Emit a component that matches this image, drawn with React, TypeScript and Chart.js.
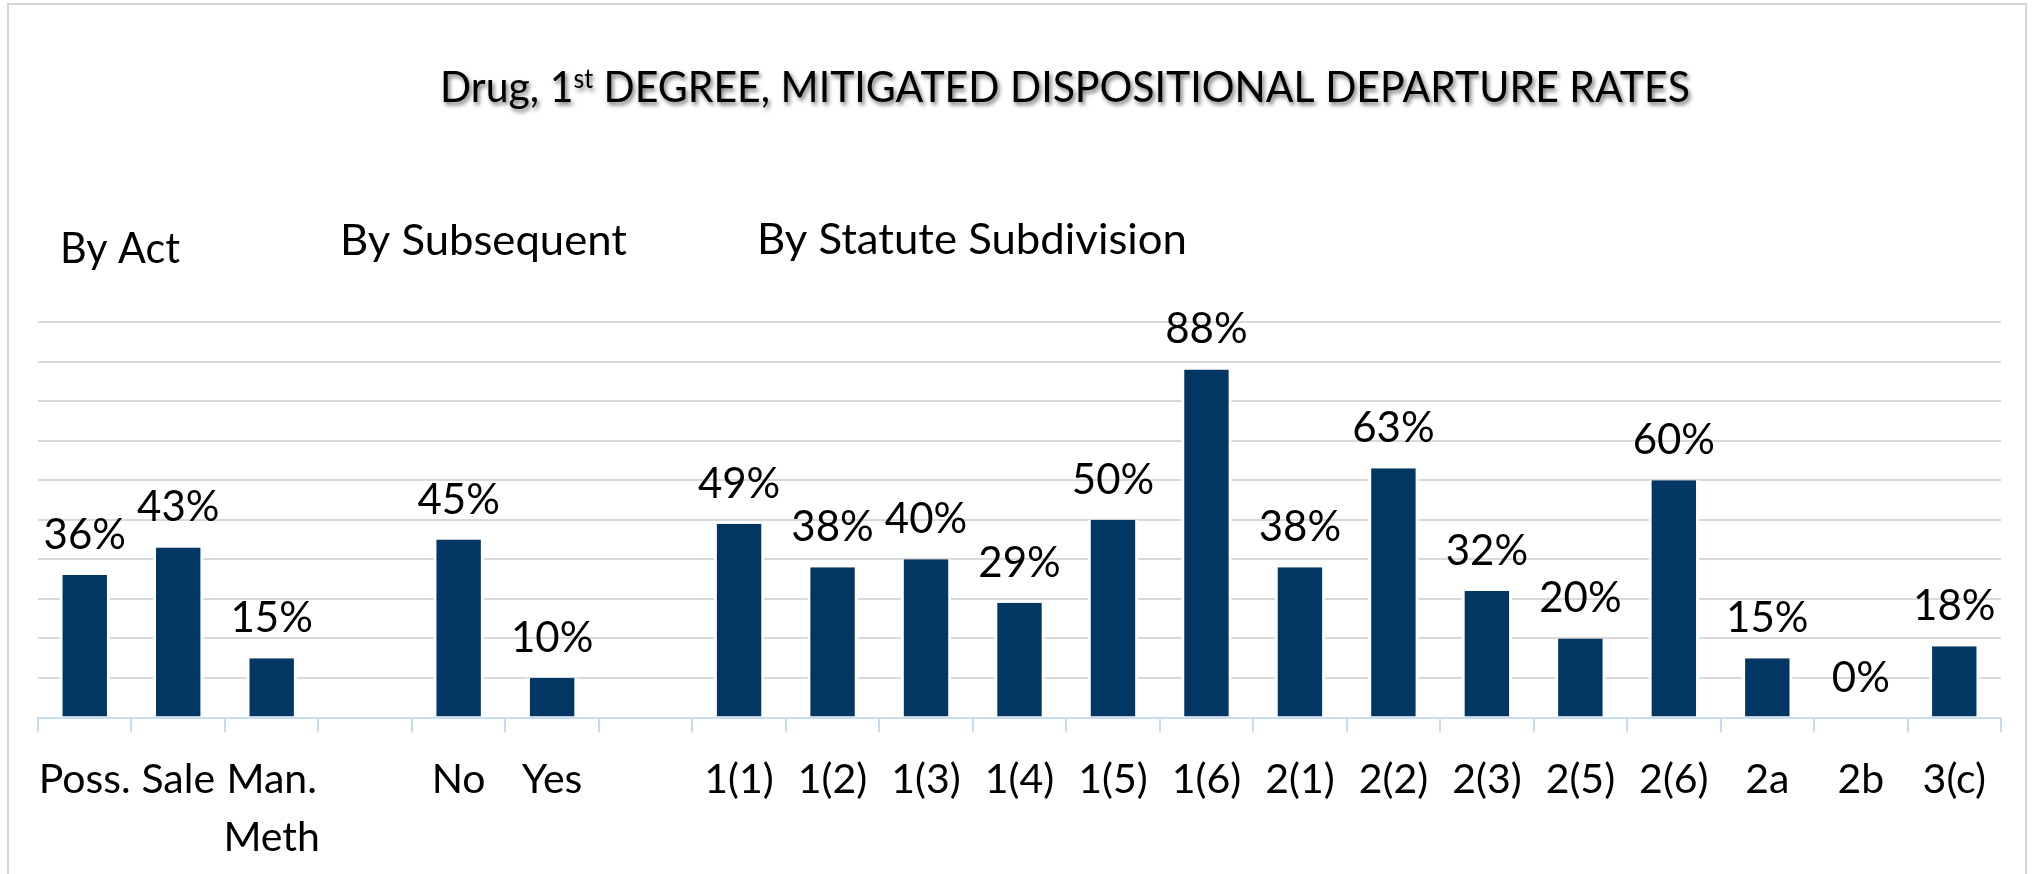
import React, { useEffect, useRef } from 'react';
import { Chart, registerables } from 'chart.js';

Chart.register(...registerables);

// ---- data ----
const titleMain = 'Drug, 1';
const titleSup = 'st';
const titleRest = ' DEGREE, MITIGATED DISPOSITIONAL DEPARTURE RATES';

const groupHeaders = ['By Act', 'By Subsequent', 'By Statute Subdivision'];

const actLabels: (string | string[])[] = ['Poss.', 'Sale', ['Man.', 'Meth']];
const actValues = [36, 43, 15];

const subsequentLabels = ['No', 'Yes'];
const subsequentValues = [45, 10];

const statuteLabels = ['1(1)', '1(2)', '1(3)', '1(4)', '1(5)', '1(6)', '2(1)', '2(2)', '2(3)', '2(5)', '2(6)', '2a', '2b', '3(c)'];
const statuteValues = [49, 38, 40, 29, 50, 88, 38, 63, 32, 20, 60, 15, 0, 18];

const yMin = 0;
const yMax = 100;
const yStep = 10;

// ---- layout / style ----
const W = 2037;
const H = 874;
const FONT = 'Lato, "Open Sans", sans-serif';
const BAR_COLOR = '#033763';

const allLabels = [...actLabels, '', ...subsequentLabels, '', ...statuteLabels];
const allValues = [...actValues, null, ...subsequentValues, null, ...statuteValues];

// header placement: [x, baseline, targetWidth]
const headerPos = [
  [60, 263, 120],
  [340, 255, 287],
  [757, 254, 430],
];

function drawFitted(ctx: CanvasRenderingContext2D, segs: { t: string; size: number; dy: number }[], x: number, y: number, width: number) {
  let natural = 0;
  for (const s of segs) {
    ctx.font = `${s.size}px ${FONT}`;
    natural += ctx.measureText(s.t).width;
  }
  const sx = width / natural;
  ctx.save();
  ctx.translate(x, y);
  ctx.scale(sx, 1);
  let cx = 0;
  for (const s of segs) {
    ctx.font = `${s.size}px ${FONT}`;
    ctx.fillText(s.t, cx, s.dy);
    cx += ctx.measureText(s.t).width;
  }
  ctx.restore();
}

const decorPlugin = {
  id: 'decor',
  beforeDraw(chart: any) {
    const ctx = chart.ctx as CanvasRenderingContext2D;
    ctx.save();
    ctx.fillStyle = '#ffffff';
    ctx.fillRect(0, 0, W, H);
    ctx.strokeStyle = '#d6d6d6';
    ctx.lineWidth = 2;
    ctx.strokeRect(8, 4, 2018, H + 20);
    ctx.restore();
  },
  afterDraw(chart: any) {
    const ctx = chart.ctx as CanvasRenderingContext2D;
    ctx.save();
    ctx.fillStyle = '#000';
    ctx.textAlign = 'left';
    ctx.textBaseline = 'alphabetic';
    ctx.shadowColor = 'rgba(0,0,0,0.55)';
    ctx.shadowOffsetX = 2;
    ctx.shadowOffsetY = 3;
    ctx.shadowBlur = 4;
    drawFitted(
      ctx,
      [
        { t: titleMain, size: 43, dy: 0 },
        { t: titleSup, size: 26, dy: -14 },
        { t: titleRest, size: 43, dy: 0 },
      ],
      440,
      102,
      1250
    );
    ctx.restore();

    ctx.save();
    ctx.fillStyle = '#000';
    ctx.textAlign = 'left';
    ctx.textBaseline = 'alphabetic';
    groupHeaders.forEach((h, i) => {
      const [x, y, w] = headerPos[i];
      drawFitted(ctx, [{ t: h, size: 42, dy: 0 }], x, y, w);
    });
    ctx.restore();
  },
};

const valueLabelPlugin = {
  id: 'valueLabels',
  afterDatasetsDraw(chart: any) {
    const ctx = chart.ctx as CanvasRenderingContext2D;
    const meta = chart.getDatasetMeta(0);
    const data = chart.data.datasets[0].data;
    ctx.save();
    ctx.font = `42px ${FONT}`;
    ctx.fillStyle = '#000';
    ctx.textAlign = 'center';
    ctx.textBaseline = 'alphabetic';
    meta.data.forEach((el: any, i: number) => {
      const v = data[i];
      if (v === null || v === undefined) return;
      ctx.fillText(`${v}%`, el.x, el.y - 26);
    });
    ctx.restore();
  },
};

export default function App() {
  const canvasRef = useRef<HTMLCanvasElement>(null);

  useEffect(() => {
    const canvas = canvasRef.current;
    if (!canvas) return;
    const chart = new Chart(canvas, {
      type: 'bar',
      data: {
        labels: allLabels,
        datasets: [
          {
            data: allValues,
            backgroundColor: BAR_COLOR,
            borderColor: '#ffffff',
            borderWidth: { left: 3, right: 3, top: 0, bottom: 0 },
            borderSkipped: false,
            barPercentage: 0.539,
            categoryPercentage: 1,
          },
        ],
      },
      options: {
        responsive: false,
        animation: false,
        devicePixelRatio: 1,
        layout: { padding: { left: 38, right: 36, top: 322, bottom: 0 } },
        plugins: {
          legend: { display: false },
          title: { display: false },
          tooltip: { enabled: false },
        },
        scales: {
          x: {
            grid: {
              offset: true,
              drawOnChartArea: false,
              drawTicks: true,
              tickLength: 15,
              color: '#c6ddf2',
              lineWidth: 2,
            },
            border: { display: true, color: '#c6ddf2', width: 2 },
            ticks: {
              color: '#000',
              font: { family: FONT, size: 41, lineHeight: 58 / 41 },
              padding: 18,
              maxRotation: 0,
              autoSkip: false,
            },
            afterFit: (scale: any) => {
              scale.height = H - 717.5;
            },
          },
          y: {
            min: yMin,
            max: yMax,
            ticks: { display: false, stepSize: yStep },
            grid: { color: '#d9d9d9', lineWidth: 2, drawTicks: false },
            border: { display: false },
            afterFit: (scale: any) => {
              scale.width = 0;
            },
          },
        },
      },
      plugins: [decorPlugin, valueLabelPlugin],
    });
    return () => chart.destroy();
  }, []);

  return (
    <div style={{ position: 'fixed', left: 0, top: 0, width: W, height: H, background: '#fff' }}>
      <canvas ref={canvasRef} width={W} height={H} style={{ display: 'block', width: W, height: H }} />
    </div>
  );
}
